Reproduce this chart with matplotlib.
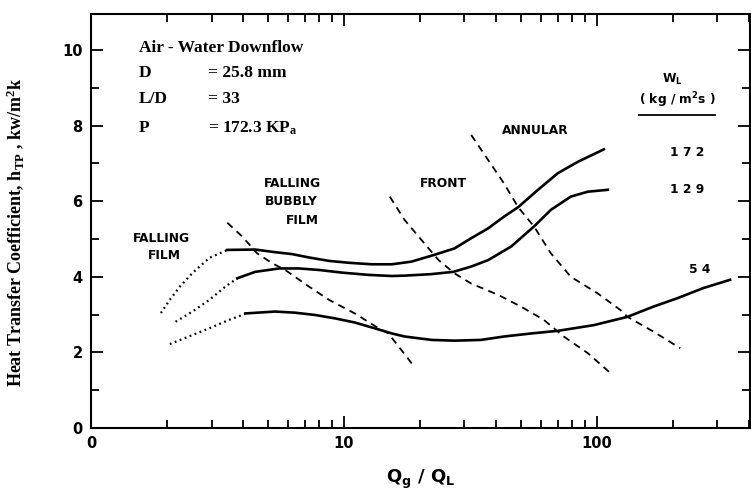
import matplotlib
matplotlib.use("Agg")
import matplotlib.pyplot as plt

# W_L = 172 kg/m2s : dotted lead-in, then solid
q172_dot = [1.89, 2.05, 2.24, 2.52, 2.94, 3.46]
h172_dot = [3.04, 3.39, 3.73, 4.10, 4.50, 4.71]
q172 = [3.46, 4.46, 5.35, 6.24, 7.28, 8.73, 10.46, 12.9, 15.5, 18.5, 22.8, 27.4,
        31.9, 37.2, 43.0, 48.9, 58.6, 70.2, 84.2, 106.7]
h172 = [4.71, 4.72, 4.65, 4.60, 4.51, 4.42, 4.37, 4.33, 4.33, 4.40, 4.58, 4.75,
        5.02, 5.28, 5.59, 5.84, 6.30, 6.74, 7.04, 7.37]

# W_L = 129
q129_dot = [2.16, 2.52, 2.94, 3.40, 3.79]
h129_dot = [2.81, 3.08, 3.39, 3.74, 3.96]
q129 = [3.79, 4.46, 5.55, 6.65, 7.97, 9.82, 12.5, 15.5, 17.4, 22.2, 27.1, 31.9,
        37.2, 45.9, 56.5, 65.9, 79.0, 92.2, 110.5]
h129 = [3.96, 4.13, 4.22, 4.22, 4.18, 4.11, 4.05, 4.02, 4.03, 4.07, 4.13, 4.27,
        4.44, 4.80, 5.33, 5.77, 6.12, 6.25, 6.30]

# W_L = 54
q54_dot = [2.05, 2.52, 2.94, 3.52, 4.08]
h54_dot = [2.22, 2.46, 2.64, 2.86, 3.02]
q54 = [4.08, 5.35, 6.41, 7.69, 9.22, 11.05, 13.2, 15.5, 17.4, 22.2, 27.4, 34.9,
       43.0, 55.0, 70.2, 97.3, 132.4, 167.6, 208.0, 264.0, 337.0]
h54 = [3.03, 3.08, 3.05, 2.99, 2.90, 2.79, 2.64, 2.50, 2.42, 2.33, 2.31, 2.33,
       2.42, 2.50, 2.57, 2.72, 2.94, 3.21, 3.43, 3.70, 3.92]

# flow regime boundaries (dashed)
q_b1 = [3.46, 3.97, 4.54, 5.20, 5.86, 7.28, 8.73, 11.05, 13.7, 15.0, 16.9, 19.0]
h_b1 = [5.43, 5.06, 4.62, 4.36, 4.18, 3.74, 3.39, 3.03, 2.64, 2.50, 2.06, 1.62]
q_b2 = [15.2, 17.4, 20.3, 23.7, 27.4, 31.9, 40.8, 50.2, 61.8, 74.1, 92.2, 113.5]
h_b2 = [6.12, 5.50, 4.97, 4.44, 4.09, 3.82, 3.52, 3.21, 2.86, 2.42, 1.98, 1.45]
q_b3 = [31.9, 37.2, 43.0, 48.9, 56.5, 65.9, 79.0, 100.9, 124.2, 132.4, 167.6, 214.0]
h_b3 = [7.75, 7.09, 6.47, 5.84, 5.33, 4.62, 4.00, 3.56, 3.12, 2.94, 2.55, 2.11]

serif = ["Liberation Serif", "DejaVu Serif"]
plt.rcParams['font.family'] = ["DejaVu Sans"]

fig = plt.figure(figsize=(7.51, 4.95), dpi=100)
ax = fig.add_axes([91 / 751, 67 / 495, 659 / 751, 414 / 495])

dots = (0, (0.8, 1.6))
ax.plot(q172_dot, h172_dot, color='black', lw=1.6, ls=dots)
ax.plot(q172, h172, color='black', lw=1.9)
ax.plot(q129_dot, h129_dot, color='black', lw=1.6, ls=dots)
ax.plot(q129, h129, color='black', lw=1.9)
ax.plot(q54_dot, h54_dot, color='black', lw=1.6, ls=dots)
ax.plot(q54, h54, color='black', lw=1.9)
for q, h in [(q_b1, h_b1), (q_b2, h_b2), (q_b3, h_b3)]:
    ax.plot(q, h, color='black', lw=1.3, ls=(0, (4, 3)))

ax.set_xscale('log')
ax.set_xlim(1, 404)
ax.set_ylim(0, 10.95)
ax.set_xticks([1, 10, 100])
ax.set_xticklabels(['0', '10', '100'])
ax.set_yticks([0, 2, 4, 6, 8, 10])
ax.set_yticks([1, 3, 5, 7, 9], minor=True)
ax.tick_params(which='both', direction='in', top=True, right=True, width=1.3,
               labelsize=10.5, pad=6)
ax.tick_params(which='major', length=8.5)
ax.tick_params(which='minor', length=6)
for lab in ax.get_xticklabels() + ax.get_yticklabels():
    lab.set_fontweight('bold')
for s in ax.spines.values():
    s.set_linewidth(1.5)

ax.set_xlabel(r'Q$\mathregular{_g}$ / Q$\mathregular{_L}$', fontsize=13,
              fontweight='bold', labelpad=12)
ax.set_ylabel(r'Heat Transfer Coefficient, h$\mathregular{_{TP}}$ , kw/m$\mathregular{^2}$k',
              family=serif, fontweight='bold', fontsize=13)
ax.yaxis.set_label_coords(-0.099, 0.473)

# test conditions
tx = dict(family=serif, fontweight='bold', fontsize=12.5, va='center')
ax.text(1.55, 10.05, 'Air - Water Downflow', **tx)
ax.text(1.55, 9.39, 'D', **tx)
ax.text(2.89, 9.39, '= 25.8 mm', **tx)
ax.text(1.55, 8.70, 'L/D', **tx)
ax.text(2.89, 8.70, '= 33', **tx)
ax.text(1.55, 7.94, 'P', **tx)
ax.text(2.89, 7.94, r'= 172.3 KP$\mathregular{_a}$', **tx)

# regime labels
lb = dict(fontweight='bold', fontsize=8.8, ha='center', va='center')
ax.text(1.90, 5.0, 'FALLING', **lb)
ax.text(1.95, 4.55, 'FILM', **lb)
ax.text(6.24, 6.48, 'FALLING', **lb)
ax.text(6.2, 5.98, 'BUBBLY', **lb)
ax.text(6.83, 5.48, 'FILM', **lb)
ax.text(24.8, 6.48, 'FRONT', **lb)
ax.text(57.0, 7.86, 'ANNULAR', **lb)

# W_L legend column
ax.text(199, 9.21, r'W$\mathregular{_L}$', **lb)
ax.text(208, 8.68, r'( kg / m$\mathregular{^2}$s )', **lb)
ax.plot([147.6, 294], [8.28, 8.28], color='black', lw=1.3)
ax.text(228, 7.30, '1 7 2', **lb)
ax.text(228, 6.30, '1 2 9', **lb)
ax.text(255, 4.18, '5 4', **lb)

fig.savefig('out.png', dpi=100)
